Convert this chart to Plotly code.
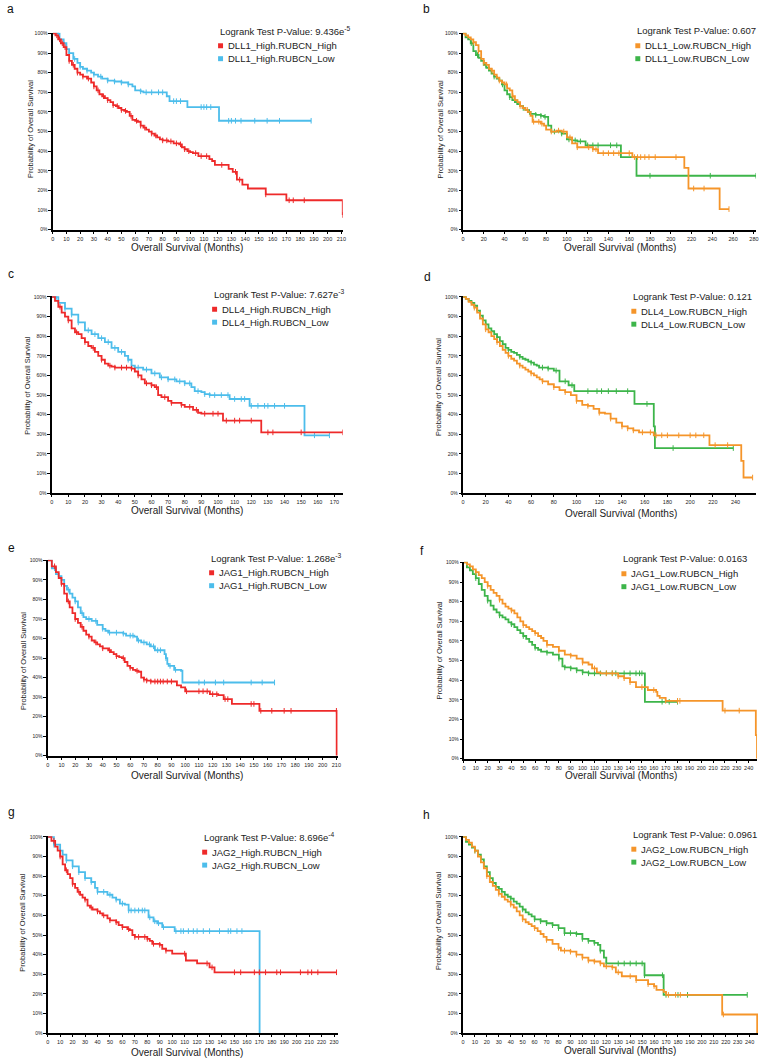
import numpy as np
import plotly.graph_objects as go

W, H = 762, 1062

RED, BLUE, ORANGE, GREEN = "#EE2A2A", "#4CBDEB", "#F5952A", "#3DB54A"

# ---------------- Panel a : DLL1 High ----------------
a_hi_t = [0, 2, 4, 6, 8, 10, 12, 14, 16, 18, 20, 22, 25, 28, 30, 32, 34, 36, 38, 40, 42, 44, 46, 48, 50, 52, 54, 56, 58, 60, 62, 64, 66, 68, 70, 72, 74, 76, 78, 80, 84, 88, 92, 94, 96, 98, 100, 102, 106, 114, 116, 118, 128, 131, 134, 138, 142, 155, 170, 211]
a_hi_s = [100, 99, 97, 95, 93, 89, 86, 84, 82, 80, 79, 78, 77, 75, 73, 71, 69, 68, 67, 66, 65, 63.5, 63, 62, 61, 60.5, 60, 58, 56, 55.5, 55, 53, 52, 51, 50, 49, 48, 47, 46, 45.5, 45, 44, 43.5, 42, 41, 40, 39.5, 39, 37.5, 36, 35, 33, 31, 29.5, 25.5, 23, 21, 18, 15, 7.5]
a_hi_c = [3, 5, 7, 9, 12, 15, 18, 22, 26, 30, 33, 37, 40, 44, 47, 50, 53, 57, 61, 64, 67, 72, 75, 80, 83, 86, 90, 93, 96, 99, 104, 108, 112, 123, 133, 136, 155, 172, 175, 183, 211]
a_lo_t = [0, 5, 8, 10, 12, 15, 18, 20, 22, 25, 28, 30, 33, 36, 40, 45, 50, 55, 58, 60, 64, 66, 83, 85, 98, 121, 188]
a_lo_s = [100, 97, 95, 92, 90, 87, 85, 83, 82, 81, 80, 79, 78, 77, 76, 75.5, 75, 74, 73, 71, 70.5, 70, 68, 65.5, 62.5, 55.5, 55.5]
a_lo_c = [4, 8, 12, 16, 20, 25, 30, 35, 40, 45, 50, 55, 64, 68, 72, 77, 80, 88, 90, 93, 108, 110, 112, 115, 128, 130, 133, 137, 147, 156, 165, 188]

# ---------------- Panel b : DLL1 Low ----------------
b_hi_t = [0, 2.5, 5, 7.5, 10, 12.5, 15, 17.5, 20, 22.5, 25, 27.5, 30, 32.5, 35, 37.5, 40, 42.5, 45, 47.5, 50, 52.5, 55, 57.5, 60, 62.5, 65, 67, 75, 78, 80, 85, 90, 95, 100, 105, 110, 125, 130, 163, 213, 217, 247, 256]
b_hi_s = [100, 99, 98, 97, 95.5, 94, 91, 87, 85, 84, 82, 81, 79, 77.5, 76, 75, 74, 72, 71, 68, 66, 65, 63, 62, 61, 60, 58, 55, 54, 53, 51, 50, 50.5, 50, 47, 44, 42, 41, 39, 37, 31.5, 21, 10.5, 10.5]
b_hi_c = [10, 15, 20, 28, 35, 42, 48, 55, 62, 68, 73, 76, 85, 92, 97, 103, 110, 121, 125, 128, 135, 140, 145, 150, 160, 165, 168, 171, 175, 179, 185, 205, 222, 232, 256]
b_lo_t = [0, 2.5, 5, 7.5, 10, 12.5, 15, 17.5, 20, 22.5, 25, 27.5, 30, 32.5, 35, 37.5, 40, 42.5, 45, 47.5, 50, 52.5, 55, 57.5, 60, 62.5, 65, 70, 75, 78, 82, 85, 95, 100, 105, 110, 118, 152, 167, 282]
b_lo_s = [100, 98, 97, 95, 91, 89, 87.5, 86, 84, 82.5, 81, 79.5, 78, 77, 76, 74, 71, 69, 67.5, 66, 65, 64, 63, 62, 61, 60, 59, 58.5, 58, 57.5, 53, 50, 49, 46, 45.5, 45, 43, 37, 27.5, 27.5]
b_lo_c = [8, 14, 22, 30, 38, 45, 52, 58, 64, 70, 75, 79, 88, 95, 102, 108, 113, 120, 125, 130, 142, 148, 180, 238, 282]

# ---------------- Panel c : DLL4 High ----------------
c_hi_t = [0, 2, 4, 6, 8, 10, 12, 14, 16, 18, 20, 22, 24, 26, 28, 30, 32, 34, 36, 38, 48, 50, 52, 54, 56, 60, 62, 64, 66, 70, 72, 78, 80, 85, 88, 90, 103, 126, 175]
c_hi_s = [100, 98, 95, 92, 90, 88, 84, 82, 81, 79, 77, 75, 74, 72, 70, 68, 66, 65, 64.5, 64, 63.5, 62, 60, 58, 56, 55, 54, 50, 49, 47, 46, 45, 44, 42.5, 41, 40.5, 37, 31, 31]
c_hi_c = [5, 10, 15, 20, 25, 30, 35, 38, 42, 45, 48, 52, 57, 60, 63, 68, 72, 78, 83, 87, 92, 97, 100, 105, 110, 113, 120, 130, 133, 150, 175]
c_lo_t = [0, 4, 8, 12, 16, 20, 24, 28, 32, 36, 40, 44, 46, 48, 50, 55, 60, 65, 70, 75, 80, 84, 86, 90, 92, 95, 107, 119, 152, 167]
c_lo_s = [100, 97, 94, 91, 87, 83, 81, 79, 77, 74, 72, 70, 68, 65, 64, 63, 61, 59, 58, 57, 56, 54, 52, 51.5, 50.5, 50, 48, 44.5, 29.5, 29.5]
c_lo_c = [3, 8, 12, 16, 22, 26, 30, 34, 38, 42, 46, 52, 57, 62, 66, 70, 74, 77, 80, 83, 88, 92, 95, 98, 102, 106, 110, 114, 116, 120, 124, 128, 130, 134, 140, 158, 167]

# ---------------- Panel d : DLL4 Low ----------------
d_hi_t = [0, 2.5, 5, 7.5, 10, 12.5, 15, 17.5, 20, 22.5, 25, 27.5, 30, 32.5, 35, 37.5, 40, 42.5, 45, 47.5, 50, 52.5, 55, 57.5, 60, 62.5, 65, 67.5, 70, 75, 80, 85, 90, 95, 100, 105, 110, 115, 120, 125, 130, 135, 140, 145, 150, 155, 168, 217, 245, 247, 255]
d_hi_s = [100, 99, 97.5, 96, 94.5, 92, 89, 86, 83.5, 82, 80, 78.5, 77, 75, 73, 71.5, 70, 68.5, 67.5, 66, 65, 64, 63, 62, 61, 60, 59, 58, 57, 55.5, 54, 52.5, 51.5, 50, 47, 45, 44.5, 43, 41, 40.5, 38, 36, 34, 33, 32, 31, 29.5, 24.5, 16.5, 8, 8]
d_hi_c = [10, 20, 30, 40, 50, 60, 70, 80, 90, 100, 110, 120, 130, 140, 145, 150, 158, 165, 170, 175, 180, 190, 200, 205, 212, 222, 233, 255]
d_lo_t = [0, 2.5, 5, 7.5, 10, 12.5, 15, 17.5, 20, 22.5, 25, 27.5, 30, 32.5, 35, 37.5, 40, 42.5, 45, 47.5, 50, 52.5, 55, 57.5, 60, 62.5, 65, 67, 75, 80, 85, 93, 98, 151, 168, 169, 238]
d_lo_s = [100, 99, 98, 97, 95.5, 93, 90.5, 88, 86, 84, 82.5, 81, 79.5, 77.5, 76, 74, 73, 72, 71.5, 70.5, 69.5, 68.5, 68, 67, 66.5, 65.5, 65, 64, 63.5, 62.5, 57, 55, 52, 45.5, 34, 23, 23]
d_lo_c = [10, 20, 30, 40, 50, 60, 70, 75, 82, 90, 96, 110, 118, 122, 128, 135, 145, 162, 185, 238]

# ---------------- Panel e : JAG1 High ----------------
e_hi_t = [0, 3, 6, 8, 10, 12, 14, 16, 18, 20, 22, 24, 26, 28, 30, 32, 34, 36, 38, 40, 44, 46, 48, 50, 52, 54, 56, 58, 60, 62, 64, 66, 68, 70, 72, 75, 94, 97, 100, 118, 124, 128, 134, 154, 210, 210.2]
e_hi_s = [100, 97, 94, 91, 88, 83, 79, 76, 73, 70, 68, 66, 64, 62, 61, 59, 58, 57, 56, 55, 54, 53, 52, 51, 50.5, 50, 48, 46, 45, 44, 43.5, 43, 40, 39, 38.5, 38, 36, 35, 33, 31.5, 31, 29, 26.5, 23, 23, 0]
e_hi_c = [5, 10, 15, 20, 25, 30, 35, 40, 45, 50, 55, 60, 65, 70, 72, 75, 78, 80, 82, 84, 87, 90, 101, 110, 113, 116, 120, 123, 129, 131, 148, 150, 155, 163, 172, 177, 210]
e_lo_t = [0, 3, 6, 8, 10, 12, 14, 16, 18, 20, 22, 24, 26, 28, 32, 36, 40, 42, 44, 55, 57, 63, 65, 68, 72, 75, 78, 85, 86, 87, 88, 92, 97, 98, 165]
e_lo_s = [100, 96, 93, 92, 90, 87, 85, 83, 81, 79, 76, 73, 71, 70, 69, 67, 65, 64, 63, 62.5, 61.5, 61, 59, 58, 57, 56, 54, 52, 50, 47, 46, 44, 43.5, 37.5, 37.5]
e_lo_c = [5, 10, 15, 20, 25, 30, 35, 40, 45, 50, 55, 60, 62, 66, 70, 74, 77, 80, 82, 86, 89, 93, 110, 114, 122, 128, 148, 156, 165]

# ---------------- Panel f : JAG1 Low ----------------
f_hi_t = [0, 2.5, 5, 7.5, 10, 12.5, 15, 17.5, 20, 22.5, 25, 27.5, 30, 32.5, 35, 37.5, 40, 42.5, 45, 47.5, 50, 52.5, 55, 57.5, 60, 62.5, 65, 67, 70, 75, 80, 85, 90, 95, 100, 105, 108, 112, 115, 130, 135, 140, 145, 155, 162, 163, 165, 170, 218, 246, 247]
f_hi_s = [100, 99, 98, 96.5, 95, 93.5, 92, 90, 88, 86, 84.5, 83, 81, 79, 77.5, 76.5, 75.5, 74, 72, 70, 68, 67, 66, 65, 64, 62.5, 61.5, 60, 58, 57, 55, 53, 52.5, 51, 49, 48, 46, 44, 43.5, 42, 41, 39, 36.5, 35, 34, 32, 31, 29.5, 24.5, 12, 0]
f_hi_c = [10, 20, 30, 40, 50, 60, 70, 80, 90, 100, 110, 120, 125, 130, 135, 140, 150, 160, 170, 180, 182, 220, 232]
f_lo_t = [0, 2.5, 5, 7.5, 10, 12.5, 15, 17.5, 20, 22.5, 25, 27.5, 30, 32.5, 35, 37.5, 40, 42.5, 45, 47.5, 50, 52.5, 55, 57.5, 60, 62.5, 65, 70, 75, 80, 83, 85, 90, 95, 100, 105, 152.5, 180]
f_lo_s = [100, 97.5, 96, 94, 92, 89, 86, 83, 80.5, 78, 76, 74.5, 73, 72, 71, 69.5, 68.5, 67, 65.5, 64, 62.5, 61, 59.5, 58, 56.5, 55.5, 54.5, 54, 53, 51, 47, 46.5, 46, 45, 44, 43.5, 29, 29]
f_lo_c = [10, 20, 30, 40, 50, 60, 70, 80, 85, 90, 95, 100, 105, 110, 115, 120, 125, 128, 135, 140, 145, 148, 150, 167, 173, 180]

# ---------------- Panel g : JAG2 High ----------------
g_hi_t = [0, 3, 6, 8, 10, 12, 14, 16, 18, 20, 22, 24, 26, 28, 30, 32, 34, 36, 40, 42, 44, 48, 50, 55, 57, 60, 64, 66, 68, 70, 80, 82, 84, 90, 92, 95, 100, 111, 120, 130, 134, 232]
g_hi_s = [100, 98, 95, 93, 90, 86, 83, 81, 79, 76, 74, 72, 70.5, 69, 68, 65, 64, 63, 62, 61, 60, 58.5, 57.5, 56.5, 55, 54, 53, 52.5, 50, 49, 48, 47, 45.5, 45, 43, 42, 40.5, 37, 35.5, 33.5, 31, 31]
g_hi_c = [5, 10, 15, 20, 25, 30, 35, 40, 45, 50, 55, 60, 65, 70, 73, 78, 80, 85, 90, 95, 110, 128, 132, 150, 155, 166, 170, 175, 184, 187, 203, 209, 212, 217, 232]
g_lo_t = [0, 5, 10, 12, 15, 20, 25, 30, 35, 38, 40, 48, 52, 55, 58, 62, 65, 81, 85, 88, 92, 102, 170, 170.2]
g_lo_s = [100, 96, 93, 91, 88, 85, 82, 79, 77, 74, 72, 70.5, 69, 68, 66, 65.5, 62.5, 59, 57, 56, 54, 52, 52, 0]
g_lo_c = [5, 10, 15, 20, 25, 30, 35, 40, 45, 50, 55, 60, 65, 67, 70, 73, 76, 78, 82, 86, 89, 93, 103, 107, 109, 113, 117, 120, 125, 130, 138, 145, 147, 152, 156]

# ---------------- Panel h : JAG2 Low ----------------
h_hi_t = [0, 2.5, 5, 7.5, 10, 12.5, 15, 17.5, 20, 22.5, 25, 27.5, 30, 32.5, 35, 37.5, 40, 42.5, 45, 47.5, 50, 52.5, 55, 57.5, 60, 62.5, 65, 67.5, 70, 75, 80, 82, 90, 95, 100, 105, 110, 115, 118, 125, 128, 133, 145, 155, 160, 162, 168, 170, 217, 246, 246.3]
h_hi_s = [100, 98.5, 97, 95, 93, 90, 87, 84, 80, 77, 75, 73, 71, 69.5, 68, 67, 65.5, 64, 62, 60, 58, 56.5, 55.5, 54.5, 53.5, 52, 50.5, 49, 47.5, 45.5, 43.5, 42, 41.5, 40, 38.5, 37, 36.5, 35.5, 34, 33.5, 31, 29, 27, 25, 24, 22, 21, 19.5, 9.5, 9.5, 0]
h_hi_c = [10, 20, 30, 40, 50, 60, 70, 80, 85, 90, 95, 100, 105, 110, 115, 120, 125, 130, 140, 145, 155, 160, 172, 178, 182, 218]
h_lo_t = [0, 2.5, 5, 7.5, 10, 12.5, 15, 17.5, 20, 22.5, 25, 27.5, 30, 32.5, 35, 37.5, 40, 42.5, 45, 47.5, 50, 52.5, 55, 57.5, 60, 65, 70, 75, 80, 85, 95, 100, 105, 110, 113, 115, 118, 120, 152, 168, 238]
h_lo_s = [100, 97.5, 96, 94.5, 93, 91, 88.5, 85, 82, 79, 76.5, 74.5, 73.5, 72, 70.5, 69.5, 68.5, 67, 66, 64.5, 63, 61.5, 60.5, 59.5, 58, 57, 56, 55, 53.5, 51, 50.5, 48, 47, 46, 45, 42, 38.5, 35.5, 29.5, 19.5, 19.5]
h_lo_c = [10, 20, 30, 40, 50, 60, 65, 70, 75, 80, 85, 90, 95, 100, 105, 110, 115, 120, 130, 135, 140, 145, 150, 152, 167, 170, 180, 188, 238]

# labels
pvalues = ["9.436e<sup>-5</sup>", "0.607", "7.627e<sup>-3</sup>", "0.121",
           "1.268e<sup>-3</sup>", "0.0163", "8.696e<sup>-4</sup>", "0.0961"]
names_hi = ["DLL1_High.RUBCN_High", "DLL1_Low.RUBCN_High", "DLL4_High.RUBCN_High", "DLL4_Low.RUBCN_High",
            "JAG1_High.RUBCN_High", "JAG1_Low.RUBCN_High", "JAG2_High.RUBCN_High", "JAG2_Low.RUBCN_High"]
names_lo = ["DLL1_High.RUBCN_Low", "DLL1_Low.RUBCN_Low", "DLL4_High.RUBCN_Low", "DLL4_Low.RUBCN_Low",
            "JAG1_High.RUBCN_Low", "JAG1_Low.RUBCN_Low", "JAG2_High.RUBCN_Low", "JAG2_Low.RUBCN_Low"]
letters = ["a", "b", "c", "d", "e", "f", "g", "h"]
y_ticks = list(range(0, 101, 10))
y_ticktext = [f"{v}%" for v in y_ticks]

curves = [
    (a_hi_t, a_hi_s, a_hi_c, a_lo_t, a_lo_s, a_lo_c),
    (b_hi_t, b_hi_s, b_hi_c, b_lo_t, b_lo_s, b_lo_c),
    (c_hi_t, c_hi_s, c_hi_c, c_lo_t, c_lo_s, c_lo_c),
    (d_hi_t, d_hi_s, d_hi_c, d_lo_t, d_lo_s, d_lo_c),
    (e_hi_t, e_hi_s, e_hi_c, e_lo_t, e_lo_s, e_lo_c),
    (f_hi_t, f_hi_s, f_hi_c, f_lo_t, f_lo_s, f_lo_c),
    (g_hi_t, g_hi_s, g_hi_c, g_lo_t, g_lo_s, g_lo_c),
    (h_hi_t, h_hi_s, h_hi_c, h_lo_t, h_lo_s, h_lo_c),
]

panels = [
    dict(x0=51, x1=343, yt=30, yb=228, xmax=211, dt=10, leg=(217, 28), let=(3, 6), xt=(186, 246), yti=(28, 127)),
    dict(x0=464, x1=759, yt=30, yb=228, xmax=282, dt=20, leg=(637, 28), let=(422, 6), xt=(622, 246), yti=(441, 127)),
    dict(x0=50, x1=343, yt=295, yb=493, xmax=175, dt=10, leg=(211, 293), let=(4, 273), xt=(186, 510), yti=(26, 385)),
    dict(x0=464, x1=759, yt=295, yb=493, xmax=258, dt=20, leg=(633, 295), let=(423, 276), xt=(623, 513), yti=(440, 386)),
    dict(x0=46, x1=338, yt=560, yb=757, xmax=211, dt=10, leg=(208, 558), let=(4, 548), xt=(186, 777), yti=(21, 662)),
    dict(x0=465, x1=760, yt=562, yb=760, xmax=247, dt=10, leg=(623, 559), let=(419, 551), xt=(623, 777), yti=(440, 651)),
    dict(x0=46, x1=338, yt=838, yb=1036, xmax=233, dt=10, leg=(201, 839), let=(4, 814), xt=(186, 1055), yti=(21, 925)),
    dict(x0=464, x1=761, yt=838, yb=1036, xmax=247, dt=10, leg=(633, 836), let=(422, 817), xt=(622, 1053), yti=(440, 923)),
]
colors = [(RED, BLUE), (ORANGE, GREEN)] * 4

FONT = "Liberation Sans, Arial, sans-serif"
fig = go.Figure()
annotations = []
shapes = []
layout = {}


def surv_at(times, surv, ct):
    idx = np.searchsorted(np.array(times), np.array(ct), side="right") - 1
    idx = np.clip(idx, 0, len(surv) - 1)
    return list(np.array(surv)[idx])


for i, (p, cv) in enumerate(zip(panels, curves)):
    n = "" if i == 0 else str(i + 1)
    xa, ya = "x" + n, "y" + n
    hi_t, hi_s, hi_c, lo_t, lo_s, lo_c = cv
    c_hi, c_lo = colors[i]
    for t, s, cs, col in ((lo_t, lo_s, lo_c, c_lo), (hi_t, hi_s, hi_c, c_hi)):
        fig.add_trace(go.Scatter(x=t, y=s, mode="lines", line=dict(color=col, width=1.8, shape="hv"),
                                 xaxis=xa, yaxis=ya, showlegend=False, hoverinfo="skip"))
        fig.add_trace(go.Scatter(x=cs, y=surv_at(t, s, cs), mode="markers",
                                 marker=dict(symbol="line-ns", size=4, line=dict(color=col, width=1)),
                                 xaxis=xa, yaxis=ya, showlegend=False, hoverinfo="skip"))
    xt = list(range(0, int(p["xmax"]) + 1, p["dt"]))
    layout["xaxis" + n] = dict(domain=[p["x0"] / W, p["x1"] / W], range=[0, p["xmax"]], anchor=ya,
                               showgrid=False, zeroline=False, showline=True, linecolor="black", linewidth=1.5,
                               ticks="outside", ticklen=2.5, tickwidth=0.8, tickcolor="black",
                               tickvals=xt, ticktext=[str(v) for v in xt],
                               tickfont=dict(size=5.5, color="#222", family=FONT))
    layout["yaxis" + n] = dict(domain=[1 - p["yb"] / H, 1 - p["yt"] / H], range=[0, 100.3], anchor=xa,
                               showgrid=False, zeroline=False, showline=True, linecolor="black", linewidth=1.5,
                               ticks="outside", ticklen=2.5, tickwidth=0.8, tickcolor="black",
                               tickvals=y_ticks, ticktext=y_ticktext,
                               tickfont=dict(size=5, color="#222", family=FONT))
    lx, ly = p["leg"]
    annotations.append(dict(x=lx / W, y=1 - ly / H, xref="paper", yref="paper", xanchor="left", yanchor="middle",
                            text="Logrank Test P-Value: " + pvalues[i], showarrow=False,
                            font=dict(size=9.5, color="#222", family=FONT)))
    for k, (nm, col) in enumerate(((names_hi[i], c_hi), (names_lo[i], c_lo))):
        yc = ly + 15 + 13 * k
        shapes.append(dict(type="rect", xref="paper", yref="paper", x0=(lx + 0.5) / W, x1=(lx + 5.5) / W,
                           y0=1 - (yc + 2.5) / H, y1=1 - (yc - 2.5) / H, fillcolor=col, line=dict(width=0)))
        annotations.append(dict(x=(lx + 8) / W, y=1 - yc / H, xref="paper", yref="paper",
                                xanchor="left", yanchor="middle", text=nm, showarrow=False,
                                font=dict(size=9.5, color="#222", family=FONT)))
    annotations.append(dict(x=p["let"][0] / W, y=1 - p["let"][1] / H, xref="paper", yref="paper",
                            xanchor="left", yanchor="middle", text=letters[i], showarrow=False,
                            font=dict(size=12, color="#111", family=FONT)))
    annotations.append(dict(x=p["xt"][0] / W, y=1 - p["xt"][1] / H, xref="paper", yref="paper",
                            xanchor="center", yanchor="middle", text="Overall Survival (Months)", showarrow=False,
                            font=dict(size=10, color="#222", family=FONT)))
    annotations.append(dict(x=p["yti"][0] / W, y=1 - p["yti"][1] / H, xref="paper", yref="paper",
                            xanchor="center", yanchor="middle", text="Probability of Overall Survival",
                            showarrow=False, textangle=-90,
                            font=dict(size=7.5, color="#222", family=FONT)))

fig.update_layout(width=W, height=H, margin=dict(l=0, r=0, t=0, b=0), plot_bgcolor="white",
                  paper_bgcolor="white", annotations=annotations, shapes=shapes, showlegend=False, **layout)
fig.write_html("out.html")
